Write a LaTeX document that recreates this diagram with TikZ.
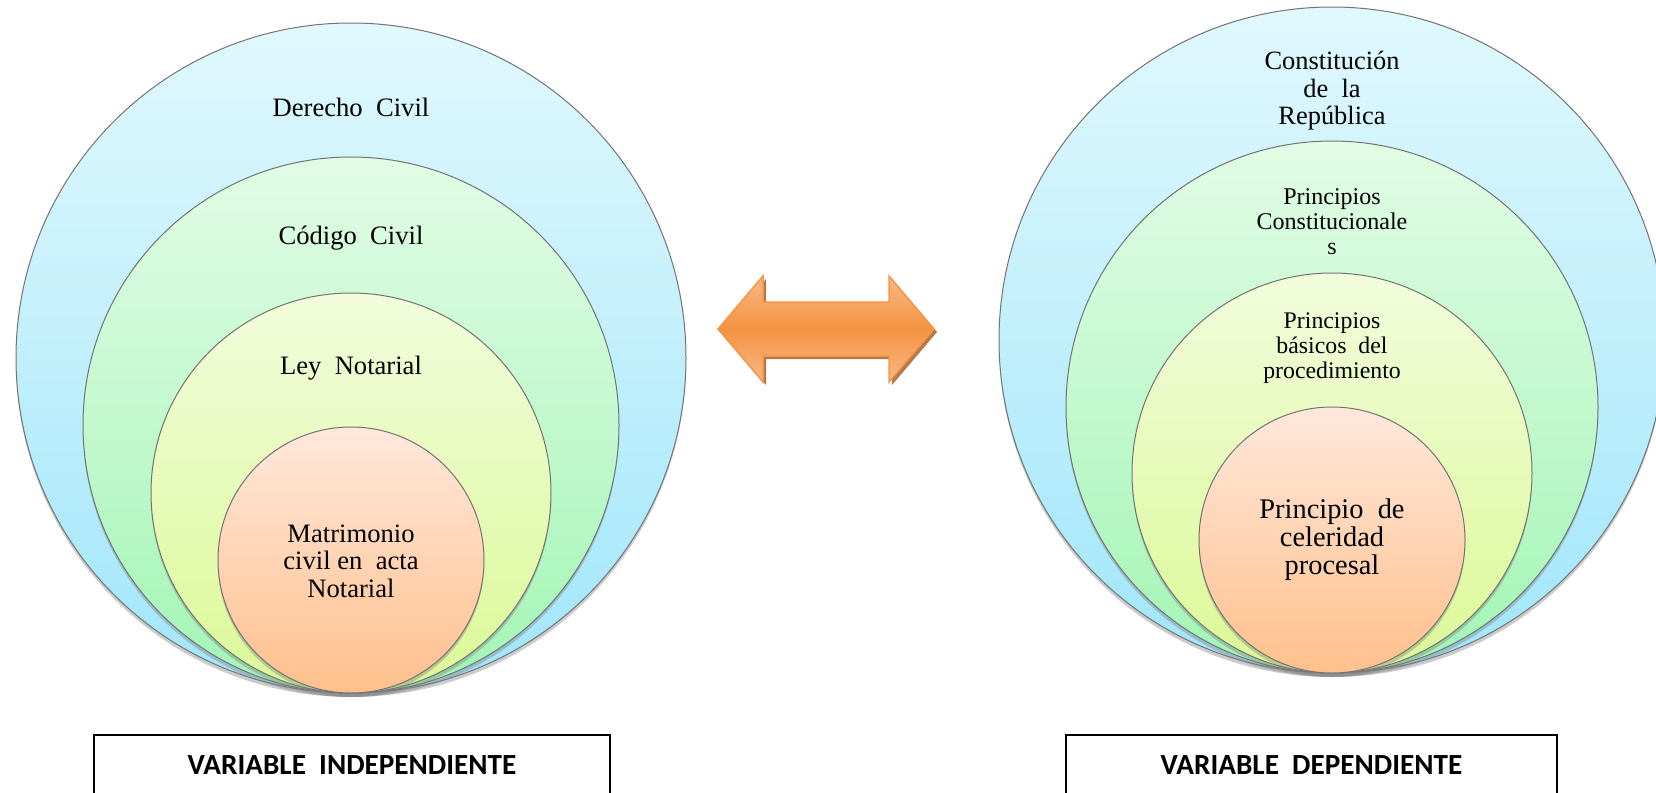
\documentclass[tikz,border=0pt]{standalone}
\usepackage{fontspec}
\setmainfont{Liberation Serif}
\newfontfamily\calibri{Carlito}
\usepackage{tikz}
\usetikzlibrary{shapes}
\usetikzlibrary{shadows}
\definecolor{blueTop}{HTML}{E1F8FE}
\definecolor{blueBot}{HTML}{A0E6FA}
\definecolor{greenTop}{HTML}{E2FCE5}
\definecolor{greenBot}{HTML}{A2F5B5}
\definecolor{yellowTop}{HTML}{F2FCDC}
\definecolor{yellowBot}{HTML}{DBF996}
\definecolor{peachTop}{HTML}{FFE8DC}
\definecolor{peachBot}{HTML}{FFC08C}
\definecolor{arrowLight}{HTML}{F9B887}
\definecolor{arrowMid}{HTML}{F49341}
\definecolor{arrowEdge}{HTML}{F79646}
\definecolor{arrowShadow}{HTML}{B57849}

\begin{document}
\begin{tikzpicture}[x = .5pt, y = -.5pt,
  ring/.style = {circle, draw = black!55, line width = .5pt, inner sep = 0, outer sep = 0,
    drop shadow = {shadow xshift = 0pt, shadow yshift = -2pt, opacity = .4}},
  ring1/.style = {ring, top color = blueTop, bottom color = blueBot},
  ring2/.style = {ring, top color = greenTop, bottom color = greenBot},
  ring3/.style = {ring, top color = yellowTop, bottom color = yellowBot},
  ring4/.style = {ring, top color = peachTop, bottom color = peachBot},
  txt/.style = {align = center, inner sep = 0},
  varbox/.style = {draw, line width = .75pt, minimum height = 30pt, inner sep = 0,
    font = \calibri\bfseries\fontsize{14.6}{16}\selectfont}]
 \useasboundingbox (0, 0) rectangle (1656, 793);
 \clip (0, 0) rectangle (1656, 793);
 % left group
 \node [ring1, minimum size = 335pt] (dcivil) at (351, 358) {};
 \node [ring2, minimum size = 268pt] (ccivil) at (351, 425) {};
 \node [ring3, minimum size = 200pt] (lnot) at (351, 493) {};
 \node [ring4, minimum size = 133pt] (matri) at (351, 560) {};
 \node [txt, font = \fontsize{13.3}{13.75}\selectfont] (dcivil-t) at (351, 107) {Derecho~~Civil};
 \node [txt, font = \fontsize{13.3}{13.75}\selectfont] (ccivil-t) at (351, 238) {Código~~Civil};
 \node [txt, font = \fontsize{13.3}{13.75}\selectfont] (lnot-t) at (351, 368) {Ley~~Notarial};
 \node [txt, font = \fontsize{13.3}{13.75}\selectfont] (matri-t) at (351, 561) {Matrimonio\\ civil en~~acta\\ Notarial};
 % right group
 \node [ring1, minimum size = 333pt] (const) at (1332, 340) {};
 \node [ring2, minimum size = 266pt] (pconst) at (1332, 407) {};
 \node [ring3, minimum size = 200pt] (pbas) at (1332, 473) {};
 \node [ring4, minimum size = 133pt] (pcel) at (1332, 540) {};
 \node [txt, font = \fontsize{13.2}{13.75}\selectfont] (const-t) at (1332, 91) {Constitución\\ de~~la\\ República};
 \node [txt, font = \fontsize{12}{12.5}\selectfont] (pconst-t) at (1332, 222) {Principios\\ Constitucionale\\ s};
 \node [txt, font = \fontsize{11.9}{12.5}\selectfont] (pbas-t) at (1332, 348) {Principios\\ básicos~~del\\ procedimiento};
 \node [txt, font = \fontsize{14.2}{14}\selectfont] (pcel-t) at (1332, 540) {Principio~~de\\ celeridad\\ procesal};
 % double arrow
 \begin{scope}[shift = {(826, 329)}]
  \fill [arrowShadow] (-105, 3) -- (-60, -50) -- (-60, -24) -- (66, -24) -- (66, -50) -- (111, 3) -- (66, 56) -- (66, 30) -- (-60, 30) -- (-60, 56) -- cycle;
  \draw [arrowEdge, line width = .75pt, top color = arrowLight, bottom color = arrowLight, middle color = arrowMid]
   (-108, 0) -- (-63, -53) -- (-63, -27) -- (63, -27) -- (63, -53) -- (108, 0) -- (63, 53) -- (63, 27) -- (-63, 27) -- (-63, 53) -- cycle;
 \end{scope}
 % boxes
 \node [varbox, minimum width = 258pt] (vindep) at (352, 765) {VARIABLE~~INDEPENDIENTE};
 \node [varbox, minimum width = 245.5pt] (vdep) at (1311.5, 765) {VARIABLE~~DEPENDIENTE};
\end{tikzpicture}
\end{document}
